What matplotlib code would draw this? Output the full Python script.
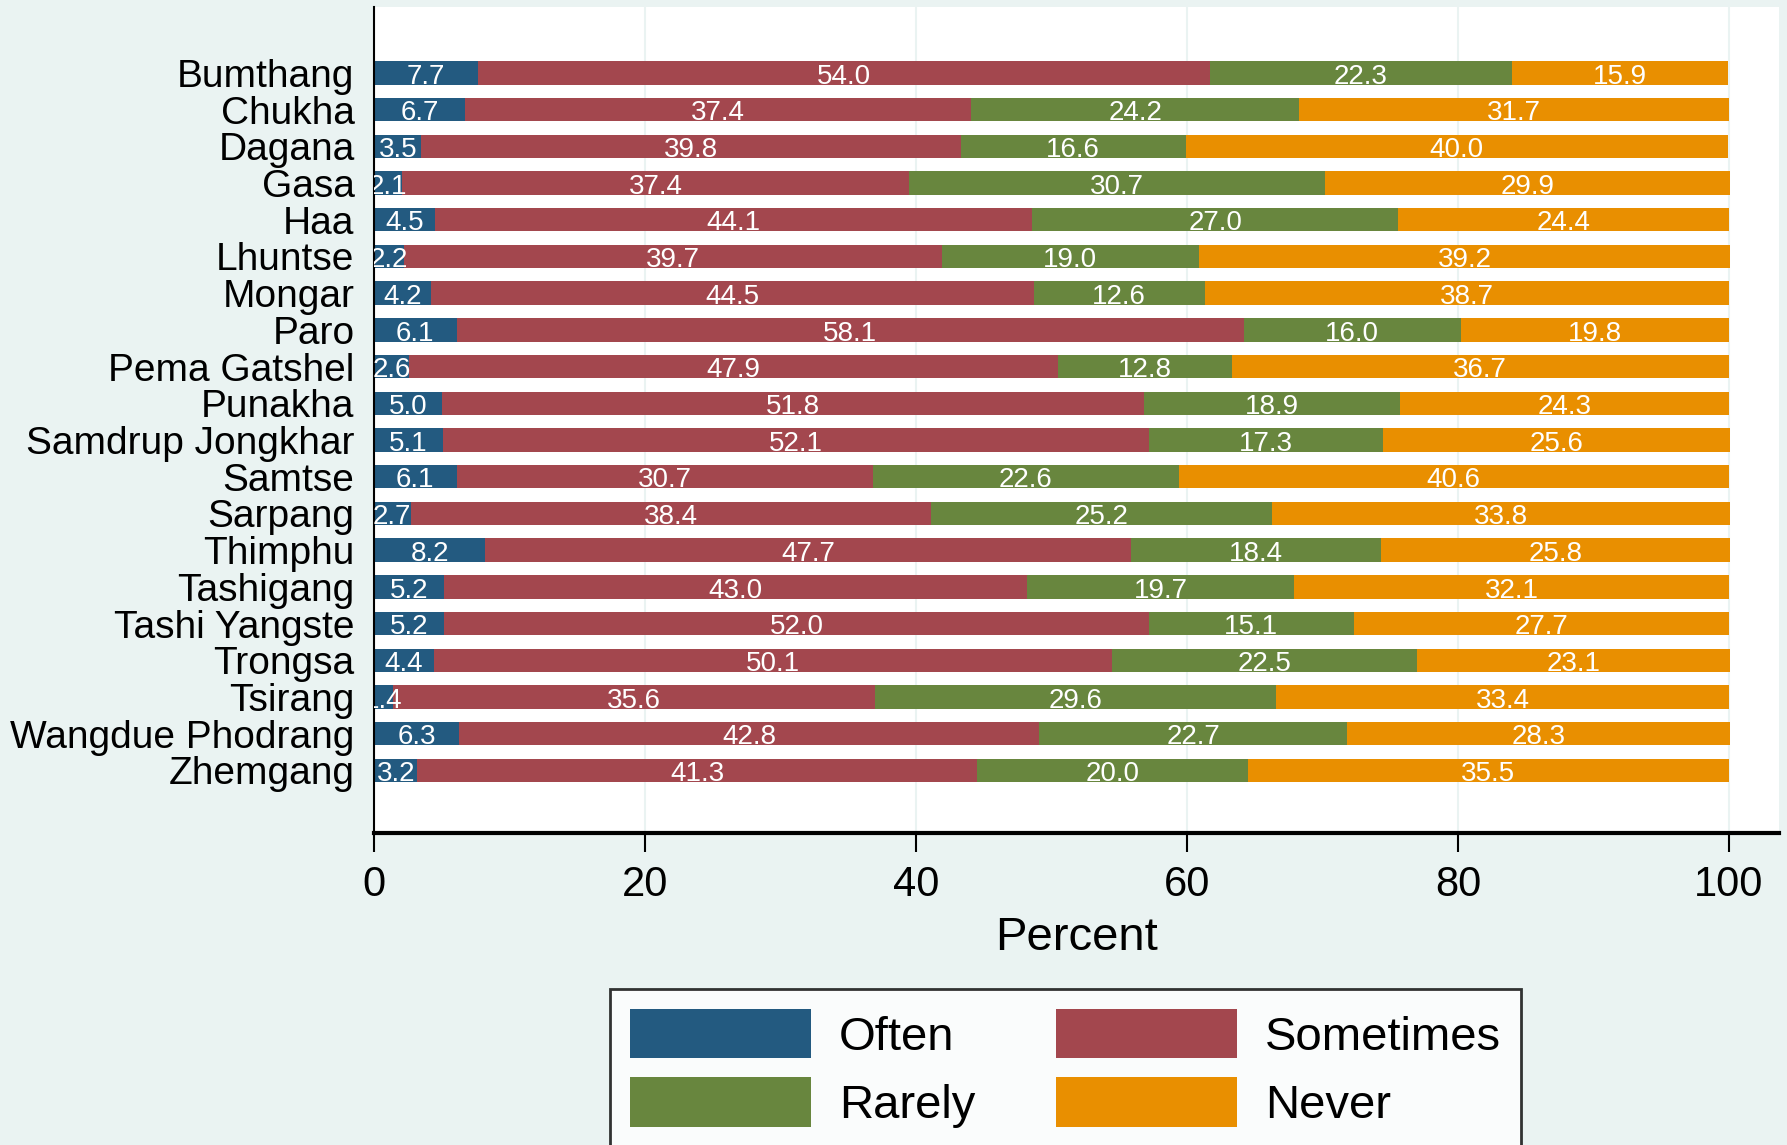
import matplotlib.pyplot as plt
import numpy as np

# district-level responses (percent)
districts = ['Bumthang', 'Chukha', 'Dagana', 'Gasa', 'Haa', 'Lhuntse', 'Mongar',
             'Paro', 'Pema Gatshel', 'Punakha', 'Samdrup Jongkhar', 'Samtse',
             'Sarpang', 'Thimphu', 'Tashigang', 'Tashi Yangste', 'Trongsa',
             'Tsirang', 'Wangdue Phodrang', 'Zhemgang']
often = [7.7, 6.7, 3.5, 2.1, 4.5, 2.2, 4.2, 6.1, 2.6, 5.0,
         5.1, 6.1, 2.7, 8.2, 5.2, 5.2, 4.4, 1.4, 6.3, 3.2]
sometimes = [54.0, 37.4, 39.8, 37.4, 44.1, 39.7, 44.5, 58.1, 47.9, 51.8,
             52.1, 30.7, 38.4, 47.7, 43.0, 52.0, 50.1, 35.6, 42.8, 41.3]
rarely = [22.3, 24.2, 16.6, 30.7, 27.0, 19.0, 12.6, 16.0, 12.8, 18.9,
          17.3, 22.6, 25.2, 18.4, 19.7, 15.1, 22.5, 29.6, 22.7, 20.0]
never = [15.9, 31.7, 40.0, 29.9, 24.4, 39.2, 38.7, 19.8, 36.7, 24.3,
         25.6, 40.6, 33.8, 25.8, 32.1, 27.7, 23.1, 33.4, 28.3, 35.5]

seriesNames = ['Often', 'Sometimes', 'Rarely', 'Never']
seriesColors = ['#235a80', '#a3474e', '#68863e', '#e98f00']

bgColor = '#eaf3f2'
barHeight = 0.64

plt.rcParams['font.family'] = ['Liberation Sans', 'DejaVu Sans']

W, H = 1787, 1145
fig = plt.figure(figsize=(W / 100, H / 100), dpi=100, facecolor=bgColor)
ax = fig.add_axes([374 / W, 1 - 833 / H, (1779 - 374) / W, (833 - 7) / H])
ax.set_facecolor('white')

ypos = np.arange(len(districts))
left = np.zeros(len(districts))
handles = []
for name, vals, col in zip(seriesNames, [often, sometimes, rarely, never], seriesColors):
    vals = np.array(vals)
    h = ax.barh(ypos, vals, left=left, height=barHeight, color=col,
                edgecolor='none', label=name, zorder=2)
    handles.append(h)
    for y, l, v in zip(ypos, left, vals):
        ax.text(l + v / 2, y + 0.1, f'{v:.1f}', color='white', fontsize=20,
                ha='center', va='center', zorder=3, clip_on=True)
    left = left + vals

ax.set_xlim(0, 103.7)
ax.set_ylim(19 + 1.705, -1.795)
ax.set_xticks([0, 20, 40, 60, 80, 100])
ax.set_yticks(ypos)
ax.set_yticklabels(districts)
ax.tick_params(axis='y', length=0, pad=14, labelsize=28)
ax.tick_params(axis='x', length=14, width=1.5, pad=9, labelsize=30)
ax.xaxis.grid(True, color=bgColor, linewidth=1.5, zorder=0)
ax.set_axisbelow(True)
ax.set_xlabel('Percent', fontsize=34, labelpad=8)

for s in ['top', 'right']:
    ax.spines[s].set_visible(False)
ax.spines['left'].set_linewidth(1.5)
ax.spines['bottom'].set_linewidth(3)

# legend order: Often, Sometimes / Rarely, Never (row-wise)
leg = fig.legend([handles[0], handles[2], handles[1], handles[3]],
                 ['Often', 'Rarely', 'Sometimes', 'Never'],
                 ncol=2, loc='upper left',
                 bbox_to_anchor=(610 / W, 1 - 989 / H), borderaxespad=0,
                 fontsize=34, frameon=True, fancybox=False,
                 handlelength=3.83, handleheight=1.24, handletextpad=0.6,
                 columnspacing=1.71, labelspacing=0.38, borderpad=0.42)
leg.get_frame().set_edgecolor('black')
leg.get_frame().set_linewidth(2)

fig.savefig('out.png', dpi=100, facecolor=bgColor)
